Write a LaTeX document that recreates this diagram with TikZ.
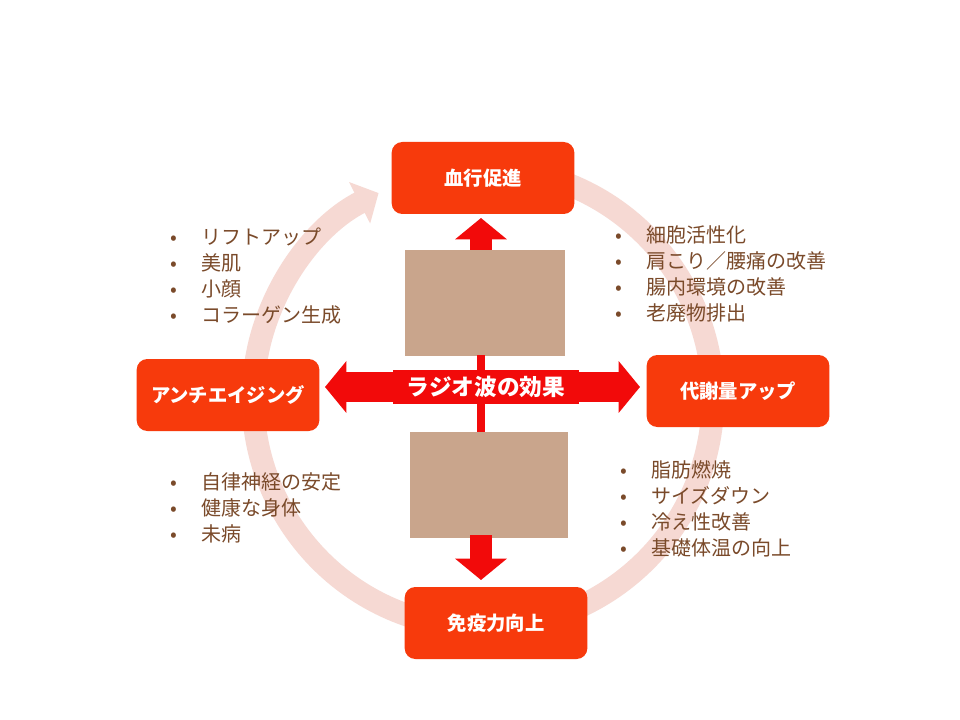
\documentclass[tikz,border=0pt]{standalone}
\usepackage{fontspec}
\setmainfont{Noto Sans CJK JP}
\usetikzlibrary{arrows.meta}
\definecolor{boxred}{HTML}{F73A0C}
\definecolor{ringpink}{HTML}{F6D9D3}
\definecolor{txtbrown}{HTML}{7A4A2A}
\definecolor{arrred}{HTML}{F20A0A}
\definecolor{photo}{HTML}{C9A58C}
\tikzset{
 x=0.75pt,y=-0.75pt,
 effbox/.style={fill=boxred,rounded corners=8pt,text=white,font=\bfseries\fontsize{14.5}{16}\selectfont,minimum width=137pt,minimum height=54pt,inner sep=0pt},
 blist/.style={text=txtbrown,font=\fontsize{15}{19.5}\selectfont,anchor=north west,align=left,inner sep=0pt},
 photobox/.style={fill=photo,draw=none,inner sep=0pt},
 bigarr/.style={arrred,line width=22pt,-{Triangle[length=16pt,width=38pt]}}
}
\begin{document}
\begin{tikzpicture}
\useasboundingbox[fill=white] (0,0) rectangle (960,720);
% ring
\draw[ringpink,line width=17pt,-{Triangle[length=16pt,width=34pt]}] (483,398) ++(-78:230) arc[start angle=-78,end angle=243,radius=230];
% photos
\node[photobox,minimum width=120pt,minimum height=80pt] (p1) at (485,303) {};
\node[photobox,minimum width=118pt,minimum height=80pt] (p2) at (489,485) {};
% center arrows
\coordinate (c) at (481,387);
\coordinate (up) at (481,218);
\coordinate (dn) at (481,580);
\coordinate (lf) at (325,387);
\coordinate (rt) at (640,387);
\draw[bigarr,line width=16pt] (481,250) -- (up);
\draw[bigarr,line width=16pt] (481,535) -- (dn);
\draw[bigarr] (c) -- (lf);
\draw[bigarr] (c) -- (rt);
\draw[arrred,line width=6pt] (481,355) -- (481,432);
\node[fill=arrred,text=white,font=\bfseries\fontsize{17}{18}\selectfont,minimum width=140pt,minimum height=26pt,inner sep=0pt] (center) at (486,387) {ラジオ波の効果};
% boxes
\node[effbox] (top) at (483,178) {血行促進};
\node[effbox] (left) at (228,395) {アンチエイジング};
\node[effbox] (right) at (738,391) {代謝量アップ};
\node[effbox] (bottom) at (496,623) {免疫力向上};
% lists
\node[blist] (l1) at (170,228) {•\hspace{18pt}リフトアップ\\•\hspace{18pt}美肌\\•\hspace{18pt}小顔\\•\hspace{18pt}コラーゲン生成};
\node[blist] (l2) at (615,225) {•\hspace{18pt}細胞活性化\\•\hspace{18pt}肩こり／腰痛の改善\\•\hspace{18pt}腸内環境の改善\\•\hspace{18pt}老廃物排出};
\node[blist] (l3) at (170,472) {•\hspace{18pt}自律神経の安定\\•\hspace{18pt}健康な身体\\•\hspace{18pt}未病};
\node[blist] (l4) at (620,460) {•\hspace{18pt}脂肪燃焼\\•\hspace{18pt}サイズダウン\\•\hspace{18pt}冷え性改善\\•\hspace{18pt}基礎体温の向上};
\end{tikzpicture}
\end{document}
